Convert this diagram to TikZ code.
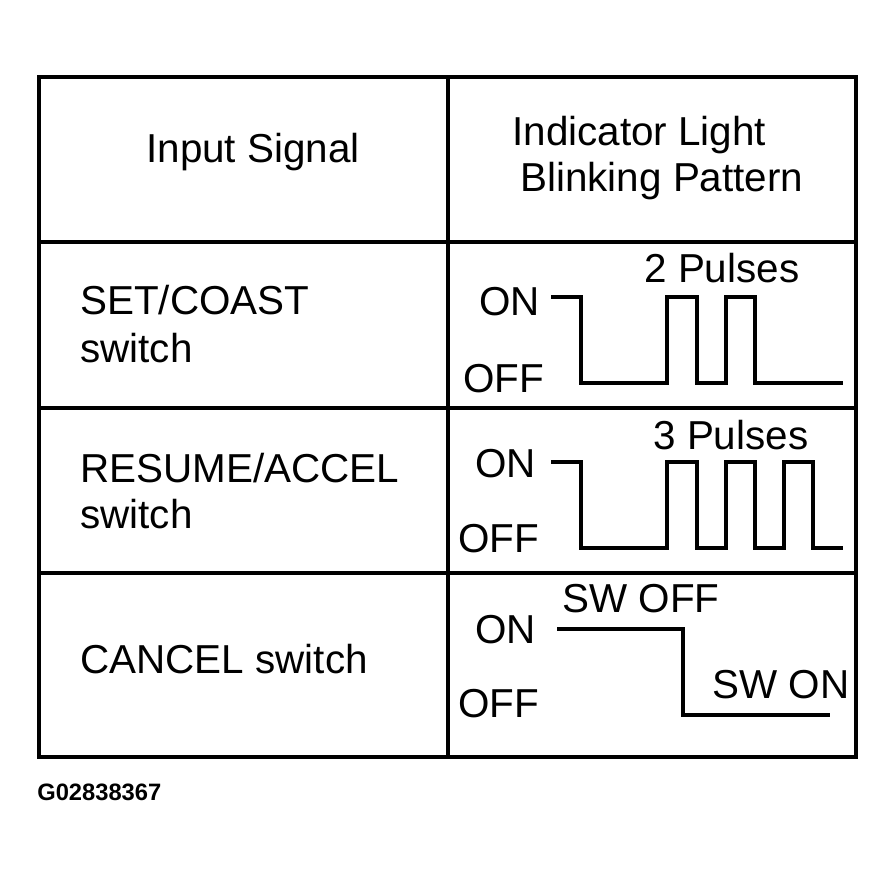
\documentclass[tikz,border=0pt]{standalone}
\usepackage{fontspec}
\setmainfont{Liberation Sans}
\usetikzlibrary{positioning}

\tikzset{
  txt/.style={draw=none,anchor=base west,inner sep=0pt,font=\fontsize{23}{27}\selectfont},
  grid/.style={line width=0.08cm},
  wave/.style={line width=0.08cm,line join=miter}
}

\begin{document}
\begin{tikzpicture}[x=0.02cm,y=-0.02cm]
    \useasboundingbox (0,0) rectangle (895,878);

    % table
    \draw[grid] (39,77) rectangle (856,757);
    \draw[grid] (448,77) to (448,757);
    \foreach \y in {242,408,573}
      \draw[grid] (39,\y) to (856,\y);

    % header
    \node[txt](insig)at(146,163){Input Signal};
    \node[txt](ind)at(512,146){Indicator Light};
    \node[txt](blink)at(520,192){Blinking Pattern};

    % input signals
    \node[txt](set)at(80,315){SET/COAST};
    \node[txt](setsw)at(80,362){switch};
    \node[txt](res)at(80,482){RESUME/ACCEL};
    \node[txt](ressw)at(80,528){switch};
    \node[txt](can)at(80,673){CANCEL switch};

    % blinking patterns
    \node[txt](on1)at(479,316){ON};
    \node[txt](off1)at(463,392){OFF};
    \node[txt](p2)at(644,283){2 Pulses};
    \draw[wave] (551,297) -- (581,297) -- (581,383) -- (667,383)
      -- (667,297) -- (697,297) -- (697,383) -- (726,383)
      -- (726,297) -- (755,297) -- (755,383) -- (843,383);

    \node[txt](on2)at(475,477){ON};
    \node[txt](off2)at(458,552){OFF};
    \node[txt](p3)at(653,449){3 Pulses};
    \draw[wave] (551,462) -- (581,462) -- (581,548) -- (667,548)
      -- (667,462) -- (697,462) -- (697,548) -- (726,548)
      -- (726,462) -- (755,462) -- (755,548) -- (784,548)
      -- (784,462) -- (813,462) -- (813,548) -- (843,548);

    \node[txt](on3)at(475,643){ON};
    \node[txt](off3)at(458,717){OFF};
    \node[txt](swoff)at(562,612){SW OFF};
    \node[txt](swon)at(712,698){SW ON};
    \draw[wave] (557,629) -- (683,629) -- (683,715) -- (830,715);

    \node[txt,font=\bfseries\fontsize{13.5}{15}\selectfont](code)at(37,800){G02838367};
\end{tikzpicture}
\end{document}
